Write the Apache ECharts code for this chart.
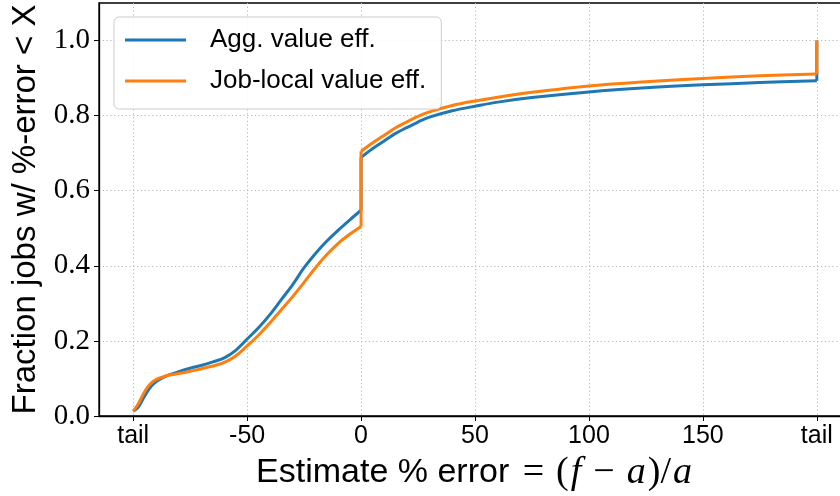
<!DOCTYPE html>
<html><head><meta charset="utf-8">
<script src="https://cdn.jsdelivr.net/npm/echarts@6/dist/echarts.min.js"></script>
<style>html,body{margin:0;padding:0;background:#fff}#c{width:840px;height:496px}</style>
</head><body><div id="c"></div>
<script>
// x = estimate % error ("tail" plotted at -100 and 200); curves are split at the jumps
const lowX  = [-100,-98,-96,-94,-92,-90,-87,-84,-80,-75,-70,-65,-60,-55,-50,-45,-40,-35,-30,-25,-20,-15,-10,-5,0];
const highX = [0,5,10,15,20,25,30,40,50,60,75,100,125,150,175,200];
const aggLowY  = [0.013,0.022,0.042,0.063,0.080,0.091,0.102,0.110,0.118,0.127,0.135,0.144,0.155,0.175,0.205,0.235,0.270,0.310,0.350,0.395,0.433,0.466,0.495,0.522,0.548];
const aggHighY = [0.689,0.712,0.732,0.752,0.768,0.783,0.796,0.813,0.825,0.836,0.848,0.863,0.874,0.882,0.888,0.893];
const jobLowY  = [0.013,0.030,0.053,0.074,0.088,0.097,0.104,0.109,0.113,0.119,0.126,0.133,0.143,0.160,0.187,0.215,0.248,0.283,0.318,0.356,0.395,0.430,0.460,0.484,0.505];
const jobHighY = [0.705,0.727,0.747,0.767,0.783,0.798,0.810,0.827,0.839,0.849,0.862,0.879,0.890,0.899,0.906,0.911];
const tailTopY = [1.0, 1.0];   // value reached at the right "tail" for [agg, job]
const seriesNames = ['Agg. value eff.', 'Job-local value eff.'];
const seriesColors = ['#1f77b4', '#ff7f0e'];
const xTickValues = [-100,-50,0,50,100,150,200];
const xTickLabels = ['tail','-50','0','50','100','150','tail'];
const yTickValues = [0,0.2,0.4,0.6,0.8,1.0];
const yTickLabels = ['0.0','0.2','0.4','0.6','0.8','1.0'];

const pairs = (xs, ys) => xs.map((x, i) => [x, ys[i]]);
function buildSeries(idx, lowY, highY) {
  const name = seriesNames[idx], color = seriesColors[idx], z = 2 + idx;
  const base = {name, type: 'line', symbol: 'none', z, silent: true,
    lineStyle: {color, width: 3}, itemStyle: {color}};
  const low = pairs(lowX, lowY), high = pairs(highX, highY);
  const last = high[high.length - 1];
  // straight piece: end of low curve -> jump at 0 ... and final jump at the right tail
  return [
    Object.assign({}, base, {data: low, smooth: 0.35}),
    Object.assign({}, base, {data: high, smooth: 0.35}),
    Object.assign({}, base, {data: [low[low.length - 1], high[0]], smooth: false}),
    Object.assign({}, base, {data: [last, [last[0], tailTopY[idx]]], smooth: false})
  ];
}

const chart = echarts.init(document.getElementById('c'), null, {renderer: 'canvas'});
const gridLine = {show: true, lineStyle: {color: '#b8b8b8', width: 1, type: [1.2, 2.6]}};
chart.setOption({
  animation: false,
  backgroundColor: '#fff',
  grid: {left: 99, right: -11, top: 3, bottom: 80, containLabel: false, outerBoundsMode: 'none',
         show: true, borderColor: '#000', borderWidth: 1.3, backgroundColor: 'transparent'},
  xAxis: {
    type: 'value', min: -115, max: 215,
    axisLine: {show: true, onZero: false, lineStyle: {color: '#000', width: 1.3}},
    axisTick: {show: true, inside: false, length: 5, lineStyle: {color: '#000', width: 1}, customValues: xTickValues},
    axisLabel: {customValues: xTickValues, margin: 8, color: '#000', fontFamily: 'Liberation Sans', fontSize: 25,
      formatter: v => xTickLabels[xTickValues.indexOf(v)]},
    splitLine: gridLine,
    name: '{t|Estimate % error }{e|=}{m|(}{i|f}{o|−}{i|a}{m|)/}{i|a}',
    nameLocation: 'middle', nameGap: 34,
    nameTextStyle: {color: '#000', rich: {
      t: {fontFamily: 'Liberation Sans', fontSize: 34, color: '#000'},
      e: {fontFamily: 'Liberation Serif', fontSize: 38, color: '#000', padding: [0, 12, 0, 4]},
      m: {fontFamily: 'Liberation Serif', fontSize: 38, color: '#000'},
      o: {fontFamily: 'Liberation Serif', fontSize: 38, color: '#000', padding: [0, 10, 0, 10]},
      i: {fontFamily: 'Liberation Serif', fontStyle: 'italic', fontSize: 38, color: '#000', padding: [0, 2, 0, 2]}
    }}
  },
  yAxis: {
    type: 'value', min: 0, max: 1.1,
    axisLine: {show: true, onZero: false, lineStyle: {color: '#000', width: 1.3}},
    axisTick: {show: true, inside: false, length: 5, lineStyle: {color: '#000', width: 1}, customValues: yTickValues},
    axisLabel: {customValues: yTickValues, margin: 9, color: '#000', fontFamily: 'Liberation Serif', fontSize: 29,
      formatter: v => yTickLabels[yTickValues.findIndex(t => Math.abs(t - v) < 1e-9)]},
    splitLine: gridLine,
    name: 'Fraction jobs w/ %-error < X',
    nameLocation: 'middle', nameGap: 56, nameRotate: 90,
    nameTextStyle: {color: '#000', fontFamily: 'Liberation Sans', fontSize: 33}
  },
  legend: {
    left: 114, top: 17, orient: 'vertical',
    icon: 'rect', itemWidth: 61, itemHeight: 3, itemGap: 11,
    padding: [8, 15, 13, 11],
    backgroundColor: 'rgba(255,255,255,0.85)', borderColor: '#cccccc', borderWidth: 1, borderRadius: 5,
    textStyle: {fontFamily: 'Liberation Sans', fontSize: 26, lineHeight: 30, color: '#000', padding: [0, 0, 0, 19]},
    data: seriesNames.map((n, i) => ({name: n, itemStyle: {color: seriesColors[i]}}))
  },
  series: [].concat(buildSeries(0, aggLowY, aggHighY), buildSeries(1, jobLowY, jobHighY))
});
</script></body></html>
